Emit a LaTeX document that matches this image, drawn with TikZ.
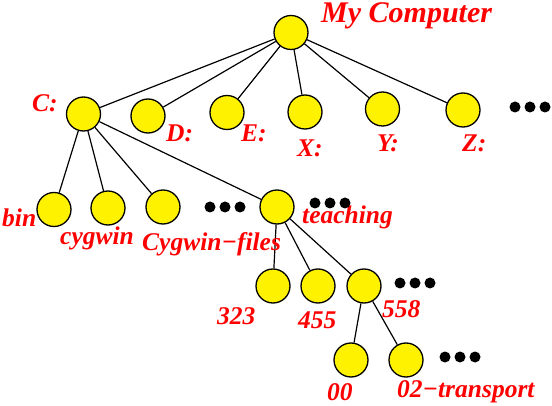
\documentclass[tikz,border=0pt]{standalone}
\usepackage{fontspec}
\setmainfont{Liberation Serif}
\usetikzlibrary{positioning}

\begin{document}
\begin{tikzpicture}[x=1pt, y=-1pt,
  dir/.style={circle, draw, fill=yellow, line width=1.3pt, minimum size=34pt, inner sep=0pt},
  lbl/.style={anchor=base west, inner sep=0pt, text=red, font=\fontsize{25.5}{30}\selectfont\bfseries\itshape},
  more/.style={circle, fill=black, minimum size=11pt, inner sep=0pt}]
\useasboundingbox (0,0) rectangle (552,406);
% folders
\node[dir] (root) at (291,32.5) {};
\node[dir] (c) at (83.5,114) {};
\node[dir] (d) at (148,116) {};
\node[dir] (e) at (227,112.5) {};
\node[dir] (x) at (305,112) {};
\node[dir] (y) at (382.5,109) {};
\node[dir] (z) at (463,110) {};
\node[dir] (bin) at (54,209.5) {};
\node[dir] (cygwin) at (108,208) {};
\node[dir] (cygfiles) at (163,207) {};
\node[dir] (teaching) at (277,207) {};
\node[dir] (c323) at (273,286) {};
\node[dir] (c455) at (318,286) {};
\node[dir] (c558) at (364,286) {};
\node[dir] (c00) at (351,360) {};
\node[dir] (transport) at (406,360) {};
% links
\foreach \d in {c,d,e,x,y,z} \draw[line width=1.2pt] (root) -- (\d);
\foreach \d in {bin,cygwin,cygfiles,teaching} \draw[line width=1.2pt] (c) -- (\d);
\foreach \d in {c323,c455,c558} \draw[line width=1.2pt] (teaching) -- (\d);
\foreach \d in {c00,transport} \draw[line width=1.2pt] (c558) -- (\d);
% names
\node[lbl, font=\fontsize{30}{34}\selectfont\bfseries\itshape] (lroot) at (321,23) {My Computer};
\node[lbl] (lc) at (32,112) {C:};
\node[lbl] (ld) at (166,142) {D:};
\node[lbl] (le) at (241,142) {E:};
\node[lbl] (lx) at (297,157) {X:};
\node[lbl] (ly) at (377,152) {Y:};
\node[lbl] (lz) at (462,152) {Z:};
\node[lbl] (lbin) at (2,227) {bin};
\node[lbl] (lcygwin) at (60,245) {cygwin};
\node[lbl] (lcygfiles) at (142,251) {Cygwin−files};
\node[lbl] (lteaching) at (302,224) {teaching};
\node[lbl] (l323) at (217,324) {323};
\node[lbl] (l455) at (298,328) {455};
\node[lbl] (l558) at (382,317) {558};
\node[lbl] (l00) at (327,400) {00};
\node[lbl] (ltransport) at (397,397) {02−transport};
% more entries
\foreach \i/\px/\py in {a/515/107, b/210/207, c/315/203, d/400/283, e/445/357}
  \foreach \k in {0,1,2}
    \node[more] (more-\i\k) at (\px+15*\k,\py) {};
\end{tikzpicture}
\end{document}
